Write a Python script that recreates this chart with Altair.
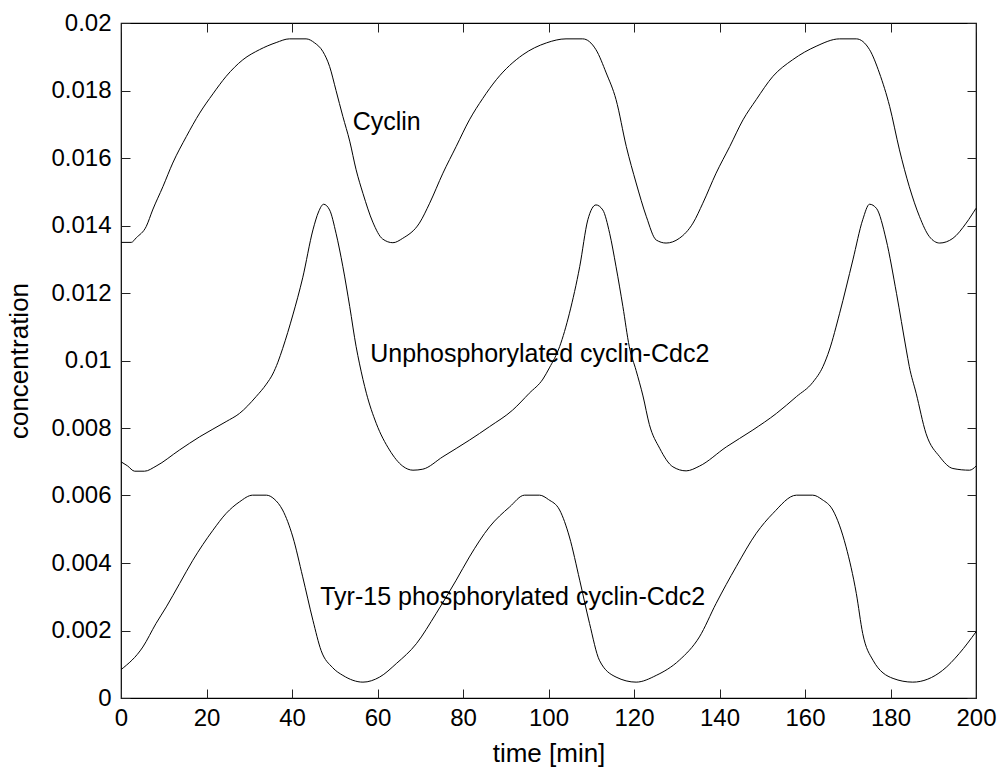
import altair as alt
import pandas as pd

# Simulated cell-cycle oscillator: time [min] vs. concentration
cyclin_t = [0, 2.4, 3.6, 5.9, 7.4, 9.8, 12.1, 15.3, 18.4, 21.5, 24.6, 28.5, 32.4, 36.3,
            39.4, 43.3, 45.3, 47.2, 48.8, 50.3, 51.9, 53.5, 55.0, 56.6, 58.9, 61.2, 63.6,
            65.9, 69.8, 72.2, 75.3, 78.4, 81.5, 84.6, 87.8, 94.0, 99.5, 104.1, 108.0,
            111.1, 113.5, 115.8, 118.2, 120.5, 122.9, 125.2, 127.5, 130.6, 133.8, 136.1,
            139.2, 142.4, 145.5, 148.6, 152.5, 157.1, 162.6, 168.1, 172.0, 175.1, 177.4,
            179.8, 182.1, 184.4, 186.8, 189.1, 191.5, 194.6, 197.7, 200]
cyclin_c = [0.01350, 0.01350, 0.01364, 0.01397, 0.01446, 0.01515, 0.01585, 0.01664,
            0.01733, 0.01790, 0.01842, 0.01891, 0.01921, 0.01942, 0.01953, 0.01953,
            0.01941, 0.01916, 0.01871, 0.01800, 0.01723, 0.01650, 0.01565, 0.01495,
            0.01410, 0.01360, 0.01349, 0.01362, 0.01407, 0.01466, 0.01555, 0.01634,
            0.01713, 0.01776, 0.01832, 0.01906, 0.01941, 0.01953, 0.01953, 0.01921,
            0.01852, 0.01773, 0.01634, 0.01526, 0.01426, 0.01357, 0.01348, 0.01362,
            0.01407, 0.01466, 0.01555, 0.01634, 0.01713, 0.01773, 0.01842, 0.01891,
            0.01931, 0.01953, 0.01953, 0.01921, 0.01852, 0.01753, 0.01624, 0.01515,
            0.01426, 0.01367, 0.01348, 0.01362, 0.01407, 0.01451]

unphos_t = [0, 1.5, 3.2, 5.5, 8.2, 13.7, 18.4, 24.6, 27.7, 31.6, 34.0, 35.5, 36.7, 37.8,
            40.2, 42.5, 44.9, 46.2, 47.4, 48.8, 50.3, 51.9, 53.5, 55.0, 55.8, 57.4, 59.7,
            62.8, 65.9, 68.3, 70.6, 75.3, 81.5, 86.2, 91.6, 95.5, 98.7, 100.2, 102.6,
            104.9, 107.3, 109.2, 111.1, 112.7, 114.3, 115.8, 117.4, 118.9, 120.5, 122.1,
            123.6, 126.0, 129.1, 132.2, 135.3, 141.6, 147.8, 153.3, 158.0, 161.8, 164.2,
            165.7, 168.1, 171.2, 173.5, 175.1, 176.7, 179.0, 181.4, 183.7, 184.4, 186.0,
            188.3, 191.5, 194.6, 198.5, 200]
unphos_c = [0.00700, 0.00688, 0.00672, 0.00672, 0.00687, 0.00735, 0.00774, 0.00819,
            0.00843, 0.00893, 0.00930, 0.00960, 0.00995, 0.01035, 0.01135, 0.01245,
            0.01387, 0.01440, 0.01463, 0.01446, 0.01377, 0.01278, 0.01160, 0.01041,
            0.00990, 0.00903, 0.00814, 0.00735, 0.00687, 0.00675, 0.00678, 0.00715,
            0.00764, 0.00804, 0.00853, 0.00903, 0.00945, 0.00978, 0.01041, 0.01140,
            0.01278, 0.01417, 0.01461, 0.01446, 0.01377, 0.01278, 0.01160, 0.01041,
            0.00970, 0.00895, 0.00810, 0.00740, 0.00685, 0.00673, 0.00687, 0.00744,
            0.00794, 0.00843, 0.00893, 0.00935, 0.00982, 0.01031, 0.01140, 0.01298,
            0.01417, 0.01463, 0.01451, 0.01357, 0.01199, 0.01031, 0.00982, 0.00903,
            0.00784, 0.00715, 0.00680, 0.00675, 0.00687]

tyr_t = [0, 5.1, 8.2, 10.6, 13.7, 16.8, 21.5, 24.6, 27.7, 30.8, 34.0, 35.8, 37.8, 40.2,
         42.5, 44.9, 46.8, 49.5, 51.9, 56.6, 60.5, 64.4, 69.1, 73.7, 78.4, 81.5, 86.2,
         90.9, 94.4, 97.9, 100.0, 102.6, 104.9, 107.3, 109.6, 111.9, 115.8, 120.5, 125.2,
         130.6, 135.3, 139.2, 143.9, 148.6, 152.5, 158.0, 161.8, 164.0, 166.5, 169.6,
         172.0, 173.5, 175.9, 180.6, 185.2, 192.2, 196.1, 200]
tyr_c = [0.00084, 0.00151, 0.00221, 0.00270, 0.00339, 0.00408, 0.00497, 0.00547,
         0.00581, 0.00601, 0.00601, 0.00590, 0.00557, 0.00477, 0.00359, 0.00230,
         0.00141, 0.00090, 0.00067, 0.00047, 0.00062, 0.00102, 0.00161, 0.00250,
         0.00349, 0.00418, 0.00507, 0.00566, 0.00601, 0.00601, 0.00588, 0.00557,
         0.00477, 0.00349, 0.00221, 0.00112, 0.00062, 0.00047, 0.00067, 0.00112,
         0.00181, 0.00280, 0.00389, 0.00488, 0.00547, 0.00601, 0.00601, 0.00588,
         0.00557, 0.00448, 0.00310, 0.00191, 0.00112, 0.00058, 0.00047, 0.00082,
         0.00132, 0.00196]

label_text = ["Cyclin", "Unphosphorylated cyclin-Cdc2", "Tyr-15 phosphorylated cyclin-Cdc2"]
label_t = [54.2, 58.3, 46.6]
label_c = [0.01684, 0.00996, 0.00275]

x_ticks = [0, 20, 40, 60, 80, 100, 120, 140, 160, 180, 200]
y_ticks = [0, 0.002, 0.004, 0.006, 0.008, 0.01, 0.012, 0.014, 0.016, 0.018, 0.02]

FONT = "Liberation Sans"
TICK_FS = 24
TITLE_FS = 26
NOTE_FS = 25

curves = pd.concat([
    pd.DataFrame({"series": "cyclin", "t": cyclin_t, "c": cyclin_c}),
    pd.DataFrame({"series": "unphosphorylated", "t": unphos_t, "c": unphos_c}),
    pd.DataFrame({"series": "tyr15", "t": tyr_t, "c": tyr_c}),
], ignore_index=True)
labels = pd.DataFrame({"text": label_text, "t": label_t, "c": label_c})

x_scale = alt.Scale(domain=[0, 200], nice=False, zero=False)
y_scale = alt.Scale(domain=[0, 0.02], nice=False, zero=False)

# ticks point into the plot: the axis is pulled inside by its tick length
common = dict(domain=False, grid=False, tickSize=9, tickColor="#222222", tickWidth=1,
              offset=-9, labelFlush=False, labelOverlap=False, labelBound=False)

x_bottom = alt.Axis(orient="bottom", values=x_ticks, labelFontSize=TICK_FS, labelFont=FONT,
                    labelColor="black", labelPadding=8, title="time [min]",
                    titleFont=FONT, titleFontSize=TITLE_FS, titleFontWeight="normal",
                    titleColor="black", titlePadding=10, **common)
y_left = alt.Axis(orient="left", values=y_ticks, format="~g", labelFontSize=TICK_FS,
                  labelFont=FONT, labelColor="black", labelPadding=10,
                  title="concentration", titleFont=FONT, titleFontSize=TITLE_FS,
                  titleFontWeight="normal", titleColor="black", titlePadding=18, **common)
x_top = alt.Axis(orient="top", values=x_ticks, labels=False, title=None, **common)
y_right = alt.Axis(orient="right", values=y_ticks, labels=False, title=None, **common)

lines = alt.Chart(curves).mark_line(
    color="black", strokeWidth=1, interpolate="monotone"
).encode(
    x=alt.X("t:Q", scale=x_scale, axis=x_bottom),
    y=alt.Y("c:Q", scale=y_scale, axis=y_left),
    detail="series:N",
)

text = alt.Chart(labels).mark_text(
    align="left", baseline="alphabetic", font=FONT, fontSize=NOTE_FS, color="black"
).encode(
    x=alt.X("t:Q", scale=x_scale, axis=x_top),
    y=alt.Y("c:Q", scale=y_scale, axis=y_right),
    text="text:N",
)

chart = alt.layer(lines, text).resolve_axis(x="independent", y="independent").properties(
    width=855,
    height=675,
    autosize=alt.AutoSizeParams(type="none"),
    padding={"left": 121, "top": 23, "right": 26, "bottom": 72},
    background="white",
).configure_view(stroke="black", strokeWidth=1.2)

chart.save("out.html", embed_options={"renderer": "svg", "actions": False})
